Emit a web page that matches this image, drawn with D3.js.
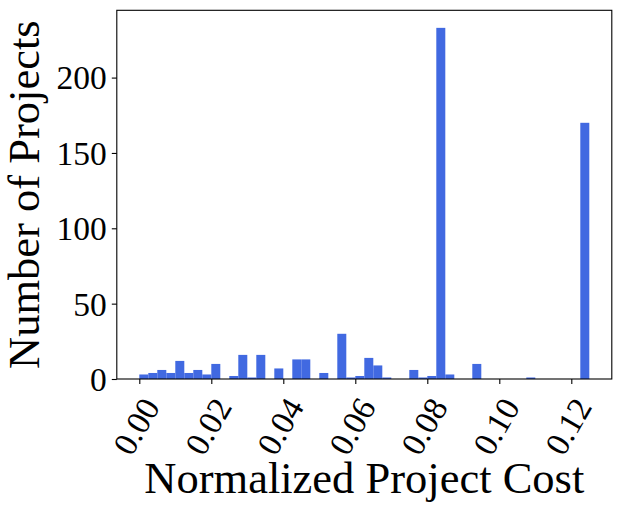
<html>
    <head>
        <script src="https://cdnjs.cloudflare.com/ajax/libs/d3/7.8.5/d3.min.js" type="text/JavaScript"></script>
        <style>
            body { margin: 0; background: white; }
            text { font-family: "Liberation Serif", "Times New Roman", serif; fill: black; }
        </style>
    </head>
    <body>
        <svg width="622" height="512"></svg>
        <script>
            // histogram bins (left edges) and counts
            let binStarts = [0.0000, 0.0025, 0.0050, 0.0075, 0.0100, 0.0125, 0.0150, 0.0175, 0.0200, 0.0225,
                             0.0250, 0.0275, 0.0300, 0.0325, 0.0350, 0.0375, 0.0400, 0.0425, 0.0450, 0.0475,
                             0.0500, 0.0525, 0.0550, 0.0575, 0.0600, 0.0625, 0.0650, 0.0675, 0.0700, 0.0725,
                             0.0750, 0.0775, 0.0800, 0.0825, 0.0850, 0.0875, 0.0900, 0.0925, 0.0950, 0.0975,
                             0.1000, 0.1025, 0.1050, 0.1075, 0.1100, 0.1125, 0.1150, 0.1175, 0.1200, 0.1225];
            let binWidth = 0.0025;
            let counts = [3, 4, 6, 4, 12, 4, 6, 3, 10, 0,
                          2, 16, 1, 16, 0, 7, 0, 13, 13, 0,
                          4, 0, 30, 1, 2, 14, 9, 1, 0, 0,
                          6, 1, 2, 233, 3, 0, 0, 10, 0, 0,
                          0, 0, 0, 1, 0, 0, 0, 0, 0, 170];
            let xTicks = [0.00, 0.02, 0.04, 0.06, 0.08, 0.10, 0.12];
            let yTicks = [0, 50, 100, 150, 200];

            let plotLeft = 116.8, plotRight = 611.8, plotTop = 10.3, plotBottom = 379;

            let svg = d3.select("svg");

            let x = d3.scaleLinear()
                .domain([-0.00625, 0.13125])
                .range([plotLeft, plotRight]);
            let y = d3.scaleLinear()
                .domain([0, d3.max(counts) * 1.05])
                .range([plotBottom, plotTop]);

            svg.selectAll("rect.bar")
                .data(counts)
                .enter()
                .append("rect")
                .attr("class", "bar")
                .attr("x", (d, i) => x(binStarts[i]))
                .attr("width", (d, i) => x(binStarts[i] + binWidth) - x(binStarts[i]))
                .attr("y", d => y(d))
                .attr("height", d => plotBottom - y(d))
                .style("fill", "#4169e1");

            // x axis
            let xAxis = svg.append("g")
                .attr("transform", "translate(0," + plotBottom + ")")
                .call(d3.axisBottom(x).tickValues(xTicks).tickFormat(d3.format(".2f")).tickSize(5).tickPadding(4));
            xAxis.select(".domain").remove();
            xAxis.selectAll("line").attr("stroke-width", 1.1);
            xAxis.selectAll("text")
                .style("font-size", "33.5px")
                .attr("text-anchor", "end")
                .attr("dominant-baseline", "central")
                .attr("y", 0)
                .attr("dy", null)
                .attr("transform", "translate(11,22) rotate(-60)");

            // y axis
            let yAxis = svg.append("g")
                .attr("transform", "translate(" + plotLeft + ",0)")
                .call(d3.axisLeft(y).tickValues(yTicks).tickSize(5).tickPadding(5));
            yAxis.select(".domain").remove();
            yAxis.selectAll("line").attr("stroke-width", 1.1);
            yAxis.selectAll("text")
                .style("font-size", "33.5px")
                .attr("dy", "0.34em");

            // frame
            svg.append("rect")
                .attr("x", plotLeft)
                .attr("y", plotTop)
                .attr("width", plotRight - plotLeft)
                .attr("height", plotBottom - plotTop)
                .style("fill", "none")
                .style("stroke", "black")
                .style("stroke-width", 1.1);

            svg.append("text")
                .attr("x", (plotLeft + plotRight) / 2)
                .attr("y", 493)
                .attr("text-anchor", "middle")
                .style("font-size", "44.5px")
                .text("Normalized Project Cost");

            svg.append("text")
                .attr("transform", "translate(39," + ((plotTop + plotBottom) / 2) + ") rotate(-90)")
                .attr("text-anchor", "middle")
                .style("font-size", "44.5px")
                .text("Number of Projects");
        </script>
    </body>
</html>
